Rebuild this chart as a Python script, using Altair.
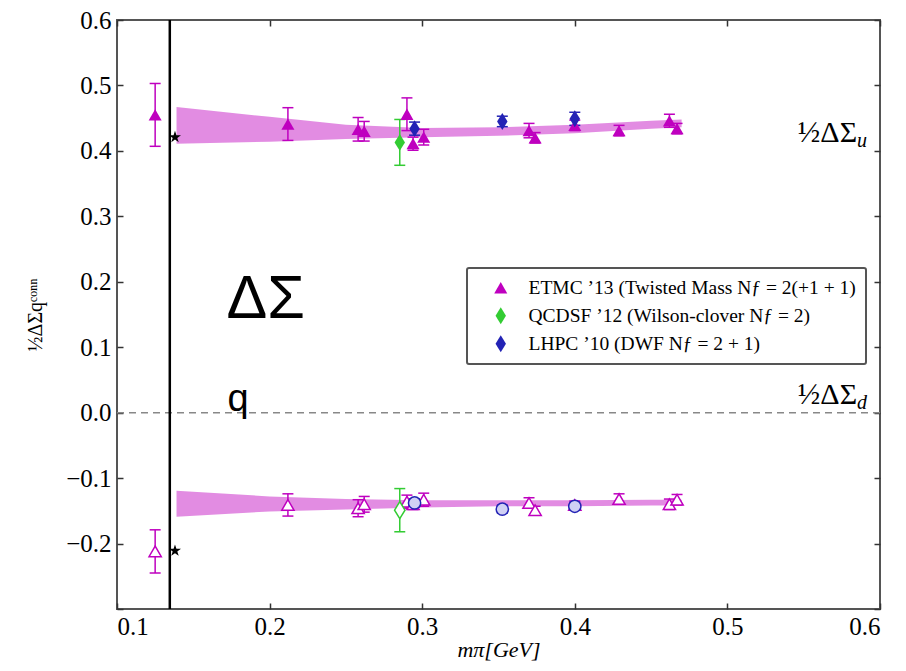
import altair as alt
import pandas as pd

# ---------------- data ----------------
SERIES = ["ETMC ’13 (Twisted Mass Nƒ = 2(+1 + 1)",
          "QCDSF ’12 (Wilson-clover Nƒ = 2)",
          "LHPC ’10 (DWF Nƒ = 2 + 1)"]
COLORS = ["#BF00BF", "#33CC33", "#2323B5"]

etmc_x = [0.125, 0.212, 0.258, 0.262, 0.290, 0.294, 0.301, 0.370, 0.374, 0.400, 0.429, 0.462, 0.467]
etmc_u = [0.455, 0.441, 0.433, 0.430, 0.456, 0.411, 0.421, 0.431, 0.420, 0.439, 0.431, 0.446, 0.434]
etmc_u_err = [0.048, 0.025, 0.018, 0.015, 0.025, 0.010, 0.012, 0.011, 0.008, 0.008, 0.008, 0.010, 0.008]
etmc_d = [-0.212, -0.141, -0.146, -0.140, -0.136, -0.140, -0.133, -0.138, -0.149, -0.141, -0.132, -0.140, -0.133]
etmc_d_err = [0.033, 0.017, 0.013, 0.012, 0.010, 0.008, 0.010, 0.008, 0.006, 0.006, 0.008, 0.008, 0.008]

qcdsf_x = [0.2853]
qcdsf_u = [0.413]
qcdsf_u_err = [0.035]
qcdsf_d = [-0.149]
qcdsf_d_err = [0.033]

lhpc_x = [0.295, 0.3525, 0.400]
lhpc_u = [0.434, 0.445, 0.449]
lhpc_u_err = [0.010, 0.008, 0.010]
lhpc_d = [-0.138, -0.1475, -0.143]
lhpc_d_err = [0.006, 0.006, 0.006]

phys_x = [0.138, 0.138]
phys_y = [0.421, -0.211]
mpi_phys = [0.1346]
zero_y = [0.0]

band_x = [0.139, 0.20, 0.25, 0.30, 0.35, 0.40, 0.45, 0.47]
band_u_lo = [0.411, 0.414, 0.418, 0.421, 0.423, 0.427, 0.434, 0.436]
band_u_hi = [0.467, 0.452, 0.440, 0.435, 0.436, 0.440, 0.446, 0.448]
band_d_lo = [-0.159, -0.151, -0.148, -0.145, -0.143, -0.143, -0.142, -0.142]
band_d_hi = [-0.1195, -0.128, -0.132, -0.134, -0.134, -0.134, -0.133, -0.133]

x_ticks = [0.1, 0.2, 0.3, 0.4, 0.5, 0.6]
y_ticks = [-0.3, -0.2, -0.1, 0.0, 0.1, 0.2, 0.3, 0.4, 0.5, 0.6]

lab_x = [0.585, 0.585]
lab_y = [0.413, 0.0137]
lab_main = ["½ΔΣ", "½ΔΣ"]
lab_sub = ["u", "d"]

big_x = [0.1718]
big_y = [0.1444]
big_text = ["ΔΣ"]
q_x = [0.1724]
q_y = [0.003]
q_text = ["q"]

# ---------------- helpers ----------------
DIAMOND = "M0,-1.3L0.8,0L0,1.3L-0.8,0Z"
STAR = ("M0,-1L0.2245,-0.309L0.951,-0.309L0.363,0.118L0.588,0.809L0,0.382"
        "L-0.588,0.809L-0.363,0.118L-0.951,-0.309L-0.2245,-0.309Z")
SERIF = "Liberation Serif"


def pts(xs, ys, errs, s):
    return pd.DataFrame({"x": xs, "y": ys,
                         "lo": [a - b for a, b in zip(ys, errs)],
                         "hi": [a + b for a, b in zip(ys, errs)],
                         "series": [s] * len(xs)})


up_e = pts(etmc_x, etmc_u, etmc_u_err, SERIES[0])
up_q = pts(qcdsf_x, qcdsf_u, qcdsf_u_err, SERIES[1])
up_l = pts(lhpc_x, lhpc_u, lhpc_u_err, SERIES[2])
dn_e = pts(etmc_x, etmc_d, etmc_d_err, SERIES[0])
dn_q = pts(qcdsf_x, qcdsf_d, qcdsf_d_err, SERIES[1])
dn_l = pts(lhpc_x, lhpc_d, lhpc_d_err, SERIES[2])
upper = pd.concat([up_e, up_q, up_l], ignore_index=True)

band = pd.DataFrame({"x": band_x, "ulo": band_u_lo, "uhi": band_u_hi,
                     "dlo": band_d_lo, "dhi": band_d_hi})

xs = alt.Scale(domain=[0.1, 0.6], nice=False, zero=False)
ys = alt.Scale(domain=[-0.3, 0.6], nice=False, zero=False)
cs = alt.Scale(domain=SERIES, range=COLORS)
ss = alt.Scale(domain=SERIES, range=["triangle-up", DIAMOND, DIAMOND])

X = lambda f="x": alt.X(f"{f}:Q", scale=xs, axis=None)
Y = lambda f="y": alt.Y(f"{f}:Q", scale=ys, axis=None)

axis_common = dict(domain=False, grid=False, tickSize=6, tickWidth=1.5,
                   tickColor="#333", offset=-6, labelFont=SERIF,
                   labelFontSize=25, labelColor="black")

x_bottom = alt.Axis(values=x_ticks, format=".1f", title="mπ[GeV]",
                    titleFont=SERIF, titleFontSize=22, titleFontStyle="italic",
                    titleFontWeight="normal", titleColor="black",
                    labelPadding=5, titlePadding=0, **axis_common)
y_left = alt.Axis(values=y_ticks, format=".1f",
                  labelExpr="datum.value < -0.25 ? '' : datum.label",
                  title="½ΔΣqᶜᵒⁿⁿ", titleFont=SERIF, titleFontSize=20,
                  titleFontWeight="normal", titleColor="black",
                  labelPadding=6, titlePadding=20, **axis_common)
x_top = alt.Axis(values=x_ticks, orient="top", labels=False, title=None,
                 domain=False, grid=False, tickSize=6, tickWidth=1.5,
                 tickColor="#333", offset=-6)
y_right = alt.Axis(values=y_ticks, orient="right", labels=False, title=None,
                   domain=False, grid=False, tickSize=6, tickWidth=1.5,
                   tickColor="#333", offset=-6)

legend = alt.Legend(orient="none", legendX=350, legendY=248, title=None,
                    labelFont=SERIF, labelFontSize=19.5, labelColor="black",
                    symbolSize=170, symbolStrokeWidth=0, padding=10,
                    symbolOffset=14, rowPadding=7, labelOffset=18,
                    strokeColor="#555", fillColor="white", cornerRadius=2,
                    labelLimit=500)

# ---------------- layers ----------------
BAND_OP = 0.45
band_u = alt.Chart(band).mark_area(color="#BF00BF", opacity=BAND_OP).encode(
    x=X(), y=Y("ulo"), y2="uhi")
band_d = alt.Chart(band).mark_area(color="#BF00BF", opacity=BAND_OP).encode(
    x=X(), y=Y("dlo"), y2="dhi")

zero = alt.Chart(pd.DataFrame({"y": zero_y})).mark_rule(
    color="#888", strokeWidth=1.5, strokeDash=[7, 5]).encode(y=Y())
vline = alt.Chart(pd.DataFrame({"x": mpi_phys})).mark_rule(
    color="black", strokeWidth=2.5).encode(x=X())


def errbars(df, col):
    base = alt.Chart(df)
    r = base.mark_rule(strokeWidth=1.5, color=col).encode(x=X(), y=Y("lo"), y2="hi")
    t1 = base.mark_tick(orient="horizontal", size=11, thickness=1.5, color=col,
                        opacity=1).encode(x=X(), y=Y("lo"))
    t2 = base.mark_tick(orient="horizontal", size=11, thickness=1.5, color=col,
                        opacity=1).encode(x=X(), y=Y("hi"))
    return [r, t1, t2]


layers = [band_u, band_d, zero, vline]
for df, col in [(up_e, COLORS[0]), (dn_e, COLORS[0]), (up_q, COLORS[1]),
                (dn_q, COLORS[1]), (up_l, COLORS[2]), (dn_l, COLORS[2])]:
    layers += errbars(df, col)

# lower, open markers
lo_e = alt.Chart(dn_e).mark_point(filled=False, fill="white", fillOpacity=1,
                                  stroke=COLORS[0], strokeWidth=1.5, size=150,
                                  opacity=1, shape="triangle-up").encode(x=X(), y=Y())
lo_q = alt.Chart(dn_q).mark_point(filled=False, fill="white", fillOpacity=1,
                                  stroke=COLORS[1], strokeWidth=1.5, size=170,
                                  opacity=1, shape=DIAMOND).encode(x=X(), y=Y())
lo_l = alt.Chart(dn_l).mark_point(filled=False, fill="#D0D0F4", fillOpacity=1,
                                  stroke=COLORS[2], strokeWidth=1.5, size=150,
                                  opacity=1, shape="circle").encode(x=X(), y=Y())

# upper, filled markers with legend and main axes
up = alt.Chart(upper).mark_point(filled=True, size=170, opacity=1).encode(
    x=alt.X("x:Q", scale=xs, axis=x_bottom),
    y=alt.Y("y:Q", scale=ys, axis=y_left),
    color=alt.Color("series:N", scale=cs, legend=legend),
    shape=alt.Shape("series:N", scale=ss, legend=legend),
)

stars = alt.Chart(pd.DataFrame({"x": phys_x, "y": phys_y})).mark_point(
    filled=True, color="black", size=160, opacity=1, shape=STAR).encode(
    x=alt.X("x:Q", scale=xs, axis=x_top),
    y=alt.Y("y:Q", scale=ys, axis=y_right),
)

labs = pd.DataFrame({"x": lab_x, "y": lab_y, "main": lab_main, "sub": lab_sub})
lab_main_t = alt.Chart(labs).mark_text(font=SERIF, fontSize=30, align="right",
                                       baseline="alphabetic", color="black").encode(
    x=X(), y=Y(), text="main:N")
lab_sub_t = alt.Chart(labs).mark_text(font=SERIF, fontSize=20, fontStyle="italic",
                                      align="left", baseline="alphabetic", dy=5,
                                      color="black").encode(
    x=X(), y=Y(), text="sub:N")

big_t = alt.Chart(pd.DataFrame({"x": big_x, "y": big_y, "t": big_text})).mark_text(
    font="Liberation Sans", fontSize=61, align="left", baseline="alphabetic",
    color="black").encode(x=X(), y=Y(), text="t:N")
q_t = alt.Chart(pd.DataFrame({"x": q_x, "y": q_y, "t": q_text})).mark_text(
    font="Liberation Sans", fontSize=38, align="left", baseline="alphabetic",
    color="black").encode(x=X(), y=Y(), text="t:N")

layers += [lo_e, lo_q, lo_l, up, stars, lab_main_t, lab_sub_t, big_t, q_t]

chart = alt.layer(*layers).resolve_axis(x="independent", y="independent").properties(
    width=763, height=589,
    padding={"left": 109, "top": 12, "right": 10, "bottom": 58},
    autosize=alt.AutoSizeParams(type="none"),
    background="white",
).configure_view(stroke="#555", strokeWidth=2).configure_axis(
    labelFont=SERIF, titleFont=SERIF
).configure_legend(strokeWidth=2)

chart.save("out.html", embed_options={"renderer": "svg", "actions": False})
